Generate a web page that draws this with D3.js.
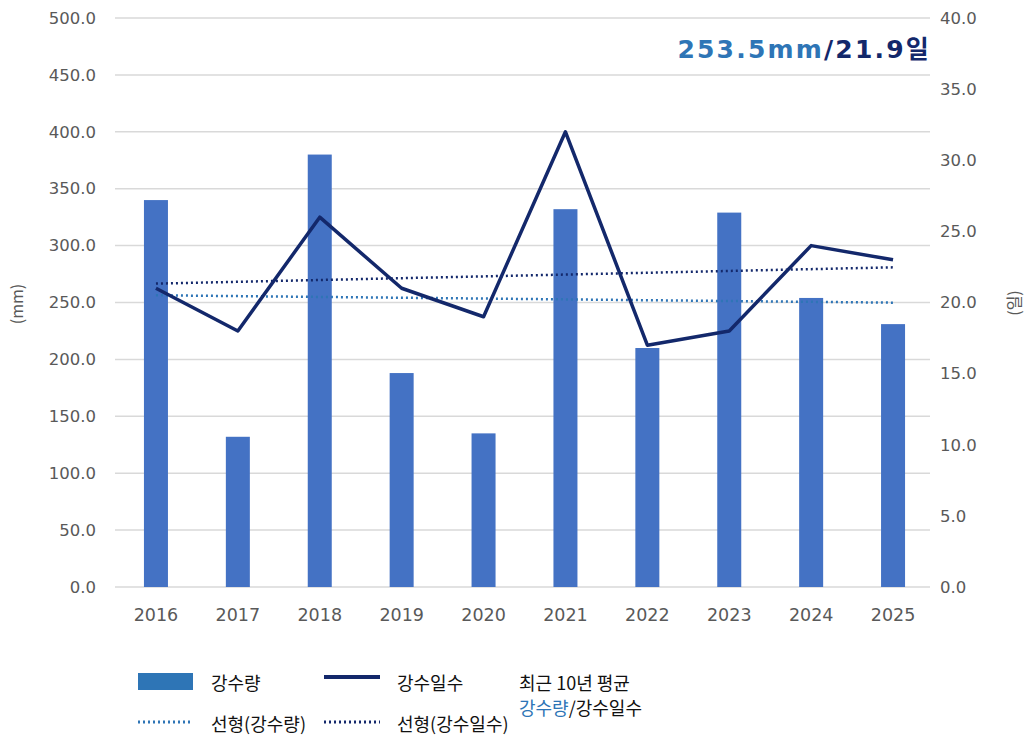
<!DOCTYPE html>
<html>
<head>
<meta charset="utf-8">
<script src="https://cdn.jsdelivr.net/npm/d3@7"></script>
<style>
  body { margin: 0; background: #fff; }
</style>
</head>
<body>
<svg id="chart" width="1031" height="739" font-family='"Noto Sans CJK KR", "Noto Sans", sans-serif'></svg>
<script>
const years = ['2016', '2017', '2018', '2019', '2020', '2021', '2022', '2023', '2024', '2025'];
const rainfall = [340, 132, 380, 188, 135, 332, 210, 329, 254, 231];
const rainDays = [21, 18, 26, 21, 19, 32, 17, 18, 24, 23];
const leftTicks = [0, 50, 100, 150, 200, 250, 300, 350, 400, 450, 500];
const rightTicks = [0, 5, 10, 15, 20, 25, 30, 35, 40];

const barColor = '#4472C4';
const rainColor = '#2E75B6';
const navy = '#13286B';
const tickColor = '#595959';
const tickFont = '"DejaVu Sans", sans-serif';

const svg = d3.select('#chart');
const plot = { left: 115, right: 934, top: 18, bottom: 587 };

const x = d3.scaleBand().domain(years).range([plot.left, plot.right]);
const yL = d3.scaleLinear().domain([0, 500]).range([plot.bottom, plot.top]);
const yR = d3.scaleLinear().domain([0, 40]).range([plot.bottom, plot.top]);
const cx = d => x(d) + x.bandwidth() / 2;

// linear trend (same as spreadsheet "선형" trendline)
function trend(vals) {
  const n = vals.length;
  const mx = (n - 1) / 2;
  const my = d3.mean(vals);
  let sxy = 0;
  let sxx = 0;
  vals.forEach((v, i) => { sxy += (i - mx) * (v - my); sxx += (i - mx) ** 2; });
  const b = sxy / sxx;
  return vals.map((v, i) => my + b * (i - mx));
}

// gridlines
svg.append('g')
  .selectAll('line')
  .data(leftTicks)
  .join('line')
  .attr('x1', plot.left)
  .attr('x2', 930)
  .attr('y1', d => yL(d))
  .attr('y2', d => yL(d))
  .attr('stroke', '#D9D9D9')
  .attr('stroke-width', 1.5);

function styleTicks(g, size) {
  g.attr('font-family', tickFont).attr('font-size', size);
  g.select('.domain').remove();
  g.selectAll('text').attr('fill', tickColor);
}

// left axis
const gLeft = svg.append('g')
  .attr('transform', `translate(${96},0)`)
  .call(d3.axisLeft(yL).tickValues(leftTicks).tickFormat(d3.format('.1f')).tickSize(0).tickPadding(0));
styleTicks(gLeft, 16.5);

// right axis
const gRight = svg.append('g')
  .attr('transform', `translate(${940},0)`)
  .call(d3.axisRight(yR).tickValues(rightTicks).tickFormat(d3.format('.1f')).tickSize(0).tickPadding(0));
styleTicks(gRight, 16.5);

// bottom axis
const gBottom = svg.append('g')
  .attr('transform', `translate(0,${609})`)
  .call(d3.axisBottom(x).tickSize(0).tickPadding(0));
styleTicks(gBottom, 17.5);

// axis titles
svg.append('text')
  .attr('transform', `translate(${23},${304}) rotate(-90)`)
  .attr('text-anchor', 'middle')
  .attr('font-size', 16)
  .attr('fill', tickColor)
  .text('(mm)');
svg.append('text')
  .attr('transform', `translate(${1020},${303}) rotate(-90)`)
  .attr('text-anchor', 'middle')
  .attr('font-size', 16)
  .attr('fill', tickColor)
  .text('(일)');

// bars
svg.append('g')
  .selectAll('rect')
  .data(years)
  .join('rect')
  .attr('x', d => cx(d) - 12)
  .attr('width', 24)
  .attr('y', (d, i) => yL(rainfall[i]))
  .attr('height', (d, i) => yL(0) - yL(rainfall[i]))
  .attr('fill', barColor);

// trend lines
const rainTrend = trend(rainfall);
const dayTrend = trend(rainDays);
svg.append('path')
  .attr('fill', 'none')
  .attr('stroke', rainColor)
  .attr('stroke-width', 2.5)
  .attr('stroke-dasharray', '2,3')
  .attr('d', d3.line().x((d, i) => cx(years[i])).y(d => yL(d))(rainTrend));
svg.append('path')
  .attr('fill', 'none')
  .attr('stroke', navy)
  .attr('stroke-width', 2.5)
  .attr('stroke-dasharray', '2,3')
  .attr('d', d3.line().x((d, i) => cx(years[i])).y(d => yR(d))(dayTrend));

// days line
svg.append('path')
  .attr('fill', 'none')
  .attr('stroke', navy)
  .attr('stroke-width', 3.5)
  .attr('stroke-linejoin', 'round')
  .attr('d', d3.line().x((d, i) => cx(years[i])).y(d => yR(d))(rainDays));

// headline average
const head = svg.append('text')
  .attr('x', 931)
  .attr('y', 58)
  .attr('text-anchor', 'end')
  .attr('font-size', 25)
  .attr('letter-spacing', 2.2)
  .attr('font-weight', 'bold')
  .attr('font-family', '"DejaVu Sans", "Noto Sans CJK KR", sans-serif');
head.append('tspan').attr('fill', rainColor).text('253.5mm');
head.append('tspan').attr('fill', navy).text('/21.9일');

// legend
const lg = svg.append('g').attr('font-size', 18).attr('fill', '#111');
lg.append('rect').attr('x', 138).attr('y', 673).attr('width', 55).attr('height', 17).attr('fill', rainColor);
lg.append('text').attr('x', 211).attr('y', 690).text('강수량');
lg.append('line').attr('x1', 324).attr('x2', 380).attr('y1', 677).attr('y2', 677)
  .attr('stroke', navy).attr('stroke-width', 4);
lg.append('text').attr('x', 397).attr('y', 690).text('강수일수');
lg.append('line').attr('x1', 138).attr('x2', 193).attr('y1', 722).attr('y2', 722)
  .attr('stroke', rainColor).attr('stroke-width', 3).attr('stroke-dasharray', '2,3');
lg.append('text').attr('x', 211).attr('y', 731).text('선형(강수량)');
lg.append('line').attr('x1', 324).attr('x2', 380).attr('y1', 722).attr('y2', 722)
  .attr('stroke', navy).attr('stroke-width', 3).attr('stroke-dasharray', '2,3');
lg.append('text').attr('x', 397).attr('y', 731).text('선형(강수일수)');
lg.append('text').attr('x', 519).attr('y', 690).text('최근 10년 평균');
const sub = lg.append('text').attr('x', 519).attr('y', 715);
sub.append('tspan').attr('fill', rainColor).text('강수량');
sub.append('tspan').attr('fill', '#111').text('/강수일수');
</script>
</body>
</html>
